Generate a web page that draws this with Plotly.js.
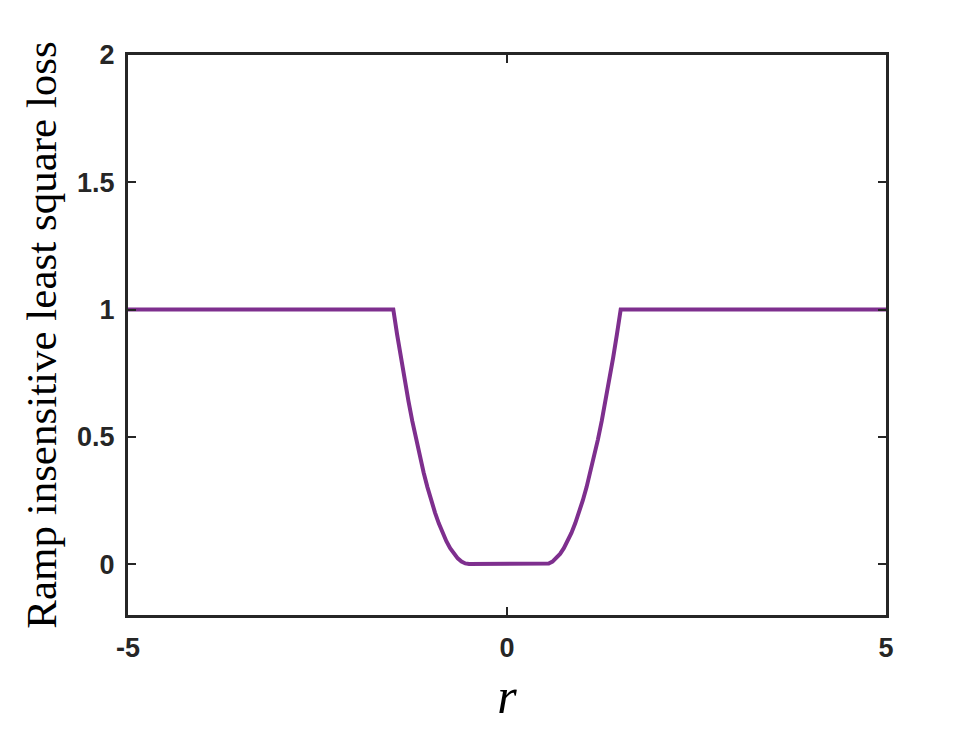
<!DOCTYPE html>
<html>
<head>
<meta charset="utf-8">
<script src="https://cdn.plot.ly/plotly-3.0.1.min.js"></script>
<style>
  html, body { margin: 0; padding: 0; background: #fff; }
  #plot { width: 980px; height: 735px; }
</style>
</head>
<body>
<div id="plot"></div>
<script>
// ramp insensitive least square loss
const rVals = [
    -5, -1.5, -1.45, -1.4, -1.35, -1.3, -1.25, -1.2, -1.15, -1.1, -1.05, -1.0,
    -0.95, -0.9, -0.85, -0.8, -0.75, -0.7, -0.65, -0.6, -0.55, -0.5,
    0.5, 0.55, 0.6, 0.65, 0.7, 0.75, 0.8, 0.85, 0.9, 0.95, 1.0,
    1.05, 1.1, 1.15, 1.2, 1.25, 1.3, 1.35, 1.4, 1.45, 1.5, 5
];
const lossVals = [
    1, 1, 0.9025, 0.81, 0.7225, 0.64, 0.5625, 0.49, 0.4225, 0.36, 0.3025, 0.25,
    0.2025, 0.16, 0.1225, 0.09, 0.0625, 0.04, 0.0225, 0.01, 0.0025, 0,
    0, 0.0025, 0.01, 0.0225, 0.04, 0.0625, 0.09, 0.1225, 0.16, 0.2025, 0.25,
    0.3025, 0.36, 0.4225, 0.49, 0.5625, 0.64, 0.7225, 0.81, 0.9025, 1, 1
];
const xTicks = [-5, 0, 5];
const yTicks = [0, 0.5, 1, 1.5, 2];
const yTickText = ['0', '0.5', '1', '1.5', '2'];

const axisColor = '#262626';
const bold = t => `<b>${t}</b>`;

const data = [{
    x: rVals,
    y: lossVals,
    type: 'scatter',
    mode: 'lines',
    line: { color: '#7E2F8E', width: 4 },
    hoverinfo: 'skip',
}];

const layout = {
    width: 980,
    height: 735,
    paper_bgcolor: '#ffffff',
    plot_bgcolor: '#ffffff',
    showlegend: false,
    font: { family: 'Liberation Sans', size: 27, color: axisColor },
    margin: { l: 128, r: 94, t: 55, b: 120 },
    xaxis: {
        range: [-5, 5],
        tickvals: xTicks,
        ticktext: xTicks.map(bold),
        ticks: 'inside', ticklen: 8, tickwidth: 2, tickcolor: axisColor,
        showline: true, linewidth: 3, linecolor: axisColor, mirror: 'ticks',
        showgrid: false, zeroline: false,
        tickfont: { family: 'Liberation Sans', size: 27, color: axisColor },
        ticklabelstandoff: 7,
        title: {
            text: 'r',
            font: { family: 'Liberation Serif', size: 50, color: '#000', style: 'italic' },
            standoff: 16,
        },
    },
    yaxis: {
        range: [-0.2, 2],
        tickvals: yTicks,
        ticktext: yTickText.map(bold),
        ticks: 'inside', ticklen: 8, tickwidth: 2, tickcolor: axisColor,
        showline: true, linewidth: 3, linecolor: axisColor, mirror: 'ticks',
        showgrid: false, zeroline: false,
        tickfont: { family: 'Liberation Sans', size: 27, color: axisColor },
        ticklabelstandoff: 5,
        title: {
            text: 'Ramp insensitive least square loss',
            font: { family: 'Liberation Serif', size: 43, color: '#000' },
            standoff: 8,
        },
    },
};

Plotly.newPlot(document.getElementById('plot'), data, layout, { displayModeBar: false, staticPlot: true });
</script>
</body>
</html>
